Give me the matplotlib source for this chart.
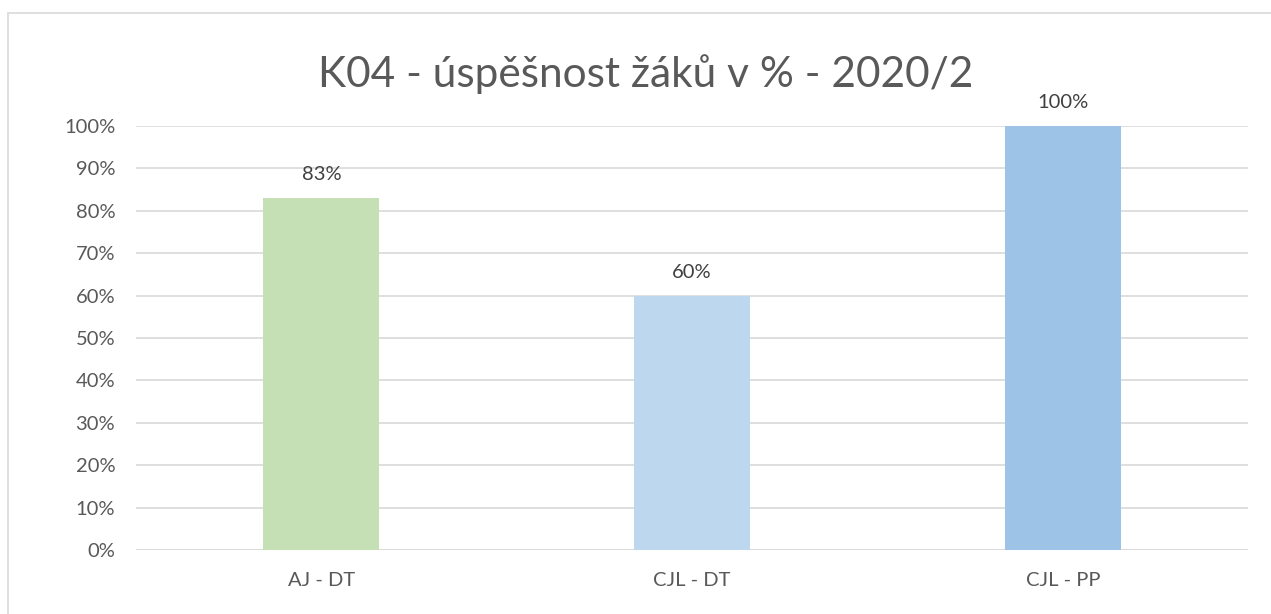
import matplotlib
matplotlib.use('Agg')
import matplotlib.pyplot as plt
from matplotlib.patches import Rectangle

categories = ['AJ - DT', 'CJL - DT', 'CJL - PP']
values = [83, 60, 100]
colors = ['#C5E0B4', '#BDD7EE', '#9DC3E6']
yticks = list(range(0, 101, 10))

plt.rcParams['font.family'] = ['Lato', 'DejaVu Sans']
text_color = '#595959'

fig = plt.figure(figsize=(12.71, 6.14), dpi=100)
ax = fig.add_axes([0.107, 0.1042, 0.875, 0.6906])

x = range(len(categories))
bars = ax.bar(x, values, width=0.313, color=colors, zorder=3)
for b, v in zip(bars, values):
    ax.text(b.get_x() + b.get_width() / 2, v + 3.5, f'{v}%', ha='center', va='bottom',
            fontsize=14.5, color='#404040')

ax.set_xlim(-0.5, 2.5)
ax.set_ylim(0, 100)
ax.set_yticks(yticks)
ax.set_yticklabels([f'{t}%' for t in yticks])
ax.set_xticks(list(x))
ax.set_xticklabels(categories)
ax.yaxis.grid(True, color='#D9D9D9', linewidth=1.2, zorder=0)
for spine in ax.spines.values():
    spine.set_visible(False)
ax.axhline(0, color='#D9D9D9', linewidth=1.2, zorder=2)
ax.tick_params(length=0, labelsize=14.5, labelcolor=text_color)
ax.tick_params(axis='y', pad=15)
ax.tick_params(axis='x', pad=16)

fig.text(0.508, 0.88, 'K04 - úspěšnost žáků v % - 2020/2', ha='center', va='center',
         fontsize=30.5, color=text_color)

fig.patches.append(Rectangle((8 / 1271, -0.1), 1.2, 1.1 - 13 / 614, transform=fig.transFigure,
                             fill=False, edgecolor='#D9D9D9', linewidth=1.2))

fig.savefig('out.png', dpi=100)
